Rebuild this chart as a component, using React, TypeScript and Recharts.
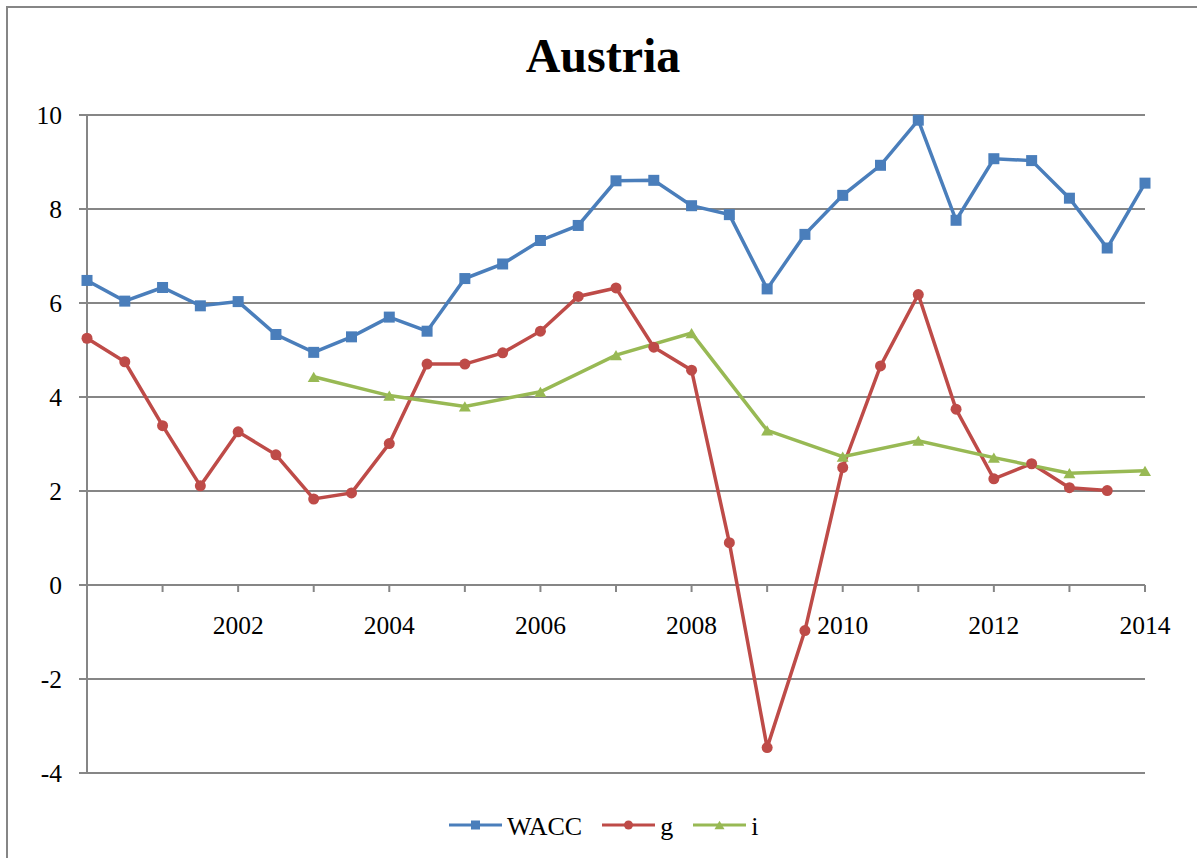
import {
  LineChart,
  Line,
  XAxis,
  YAxis,
  CartesianGrid,
  Legend,
  ReferenceDot,
} from 'recharts'

const periods = [
  2000, 2000.5, 2001, 2001.5, 2002, 2002.5, 2003, 2003.5, 2004, 2004.5,
  2005, 2005.5, 2006, 2006.5, 2007, 2007.5, 2008, 2008.5, 2009, 2009.5,
  2010, 2010.5, 2011, 2011.5, 2012, 2012.5, 2013, 2013.5, 2014,
]

const wacc = [
  6.48, 6.04, 6.33, 5.94, 6.03, 5.33, 4.95, 5.28, 5.70, 5.40,
  6.52, 6.83, 7.33, 7.65, 8.60, 8.61, 8.07, 7.88, 6.30, 7.46,
  8.29, 8.93, 9.89, 7.76, 9.07, 9.03, 8.23, 7.17, 8.55,
]

const g = [
  5.25, 4.75, 3.39, 2.11, 3.26, 2.77, 1.83, 1.96, 3.01, 4.70,
  4.70, 4.94, 5.40, 6.14, 6.32, 5.06, 4.57, 0.90, -3.46, -0.97,
  2.50, 4.66, 6.18, 3.74, 2.26, 2.58, 2.07, 2.01, null,
]

// i is only reported once a year
const i = [
  null, null, null, null, null, null, 4.43, null, 4.03, null,
  3.80, null, 4.11, null, 4.89, null, 5.36, null, 3.29, null,
  2.73, null, 3.07, null, 2.71, null, 2.38, null, 2.43,
]

const yearTicks = [2001, 2002, 2003, 2004, 2005, 2006, 2007, 2008, 2009, 2010, 2011, 2012, 2013, 2014]
const yTicks = [-4, -2, 0, 2, 4, 6, 8, 10]

const FONT = '"Liberation Serif", "Times New Roman", serif'
const GRID = '#868686'
const COLORS: Record<string, string> = {
  WACC: '#4A7EBB',
  g: '#BE4B48',
  i: '#98B954',
}

const data = periods.map((year, idx) => ({
  year,
  WACC: wacc[idx],
  g: g[idx],
  i: i[idx],
}))

function Marker({ name, cx, cy, size }: { name: string; cx: number; cy: number; size: number }) {
  const c = COLORS[name]
  if (name === 'WACC') {
    return <rect x={cx - size / 2} y={cy - size / 2} width={size} height={size} fill={c} />
  }
  if (name === 'g') {
    return <circle cx={cx} cy={cy} r={size / 2} fill={c} />
  }
  const h = size * 0.85
  return (
    <polygon
      points={`${cx - size / 2},${cy + h / 2} ${cx + size / 2},${cy + h / 2} ${cx},${cy - h / 2}`}
      fill={c}
    />
  )
}

const makeDot = (name: string, size: number) => (props: any) => {
  const { cx, cy, value, index } = props
  if (value == null || cx == null || cy == null) return <g key={`${name}-${index}`} />
  return (
    <g key={`${name}-${index}`}>
      <Marker name={name} cx={cx} cy={cy} size={size} />
    </g>
  )
}

// x axis crosses at zero, so ticks and labels hang off the zero line
const YearTick = (props: any) => {
  const { cx, cy, year } = props
  return (
    <g>
      <line x1={cx} y1={cy} x2={cx} y2={cy + 7} stroke={GRID} strokeWidth={2} />
      {year % 2 === 0 && (
        <text x={cx} y={cy + 49} textAnchor="middle" fontFamily={FONT} fontSize={25.5} fill="#000">
          {year}
        </text>
      )}
    </g>
  )
}

const YTick = (props: any) => {
  const { x, y, payload } = props
  return (
    <text x={x} y={y} dy="0.355em" textAnchor="end" fontFamily={FONT} fontSize={25.5} fill="#000">
      {payload.value}
    </text>
  )
}

const LegendContent = (props: any) => {
  const items = props.payload || []
  return (
    <div style={{ display: 'flex', alignItems: 'center', fontFamily: FONT, fontSize: 26, color: '#000' }}>
      {items.map((item: any) => (
        <div key={item.value} style={{ display: 'flex', alignItems: 'center', marginRight: 20 }}>
          <svg width={53} height={20}>
            <line x1={0} y1={8} x2={53} y2={8} stroke={COLORS[item.value]} strokeWidth={3} />
            <Marker name={item.value} cx={26.5} cy={8} size={item.value === 'i' ? 10 : 9} />
          </svg>
          <span style={{ marginLeft: 5 }}>{item.value}</span>
        </div>
      ))}
    </div>
  )
}

export default function App() {
  return (
    <div
      style={{
        position: 'fixed',
        left: 0,
        top: 0,
        width: 1197,
        height: 858,
        overflow: 'hidden',
        background: '#fff',
      }}
    >
      <div
        style={{
          position: 'absolute',
          left: 6,
          top: 6,
          width: 1220,
          height: 880,
          border: `2px solid ${GRID}`,
        }}
      />
      <div
        style={{
          position: 'absolute',
          left: 403,
          top: 32,
          width: 400,
          textAlign: 'center',
          fontFamily: FONT,
          fontWeight: 'bold',
          fontSize: 48,
          lineHeight: '48px',
          color: '#000',
        }}
      >
        Austria
      </div>
      <div style={{ position: 'absolute', left: 0, top: 0 }}>
        <LineChart width={1197} height={858} data={data} margin={{ top: 115, right: 52, bottom: 85, left: 0 }}>
          <CartesianGrid vertical={false} stroke={GRID} strokeWidth={2} />
          <XAxis dataKey="year" type="number" domain={[2000, 2014]} hide />
          <YAxis
            type="number"
            domain={[-4, 10]}
            ticks={yTicks}
            width={87}
            axisLine={{ stroke: GRID, strokeWidth: 2 }}
            tickLine={{ stroke: GRID, strokeWidth: 2 }}
            tickSize={8}
            tickMargin={17}
            tick={<YTick />}
          />
          {yearTicks.map((yr) => (
            <ReferenceDot key={yr} x={yr} y={0} r={0} shape={(p: any) => <YearTick {...p} year={yr} />} />
          ))}
          <Legend
            layout="horizontal"
            verticalAlign="middle"
            align="center"
            wrapperStyle={{ left: 449, top: 812, width: 420, height: 30 }}
            content={LegendContent}
          />
          <Line
            dataKey="WACC"
            name="WACC"
            stroke={COLORS.WACC}
            strokeWidth={3.5}
            dot={makeDot('WACC', 11)}
            activeDot={false}
            isAnimationActive={false}
          />
          <Line
            dataKey="g"
            name="g"
            stroke={COLORS.g}
            strokeWidth={3.5}
            dot={makeDot('g', 11)}
            activeDot={false}
            isAnimationActive={false}
          />
          <Line
            dataKey="i"
            name="i"
            stroke={COLORS.i}
            strokeWidth={3.5}
            connectNulls
            dot={makeDot('i', 12)}
            activeDot={false}
            isAnimationActive={false}
          />
        </LineChart>
      </div>
    </div>
  )
}
